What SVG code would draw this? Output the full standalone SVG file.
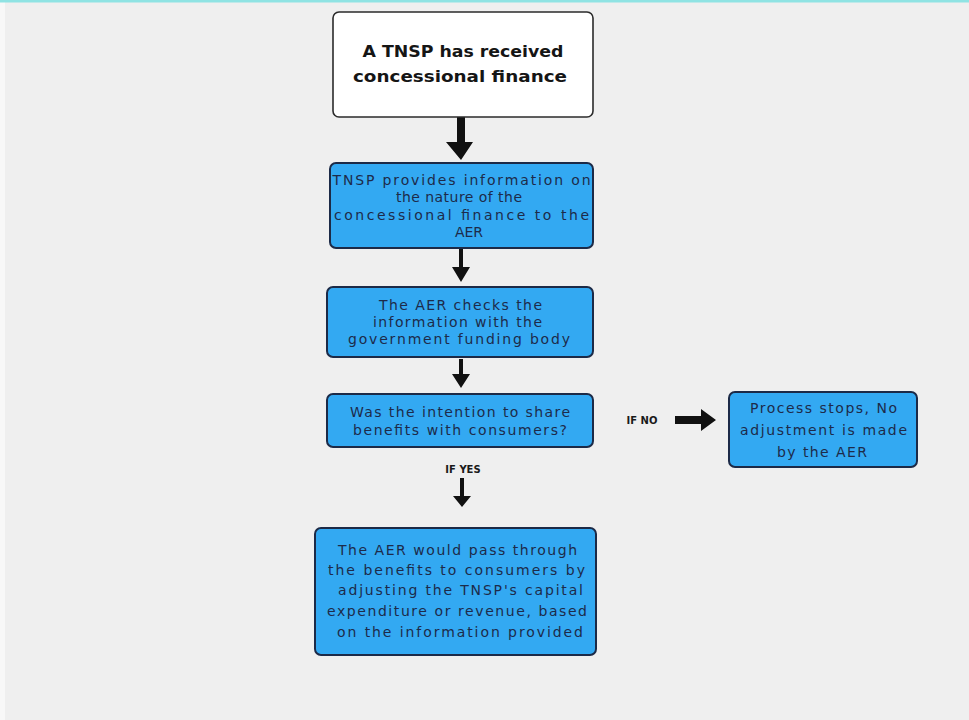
<svg xmlns="http://www.w3.org/2000/svg" width="969" height="720" viewBox="0 0 969 720">
<defs>
<style>
.bg{fill:#efefef}
.box{fill:#33a9f2;stroke:#1c2a47;stroke-width:2}
.start{fill:#ffffff;stroke:#2b2b2b;stroke-width:1.6}
.t{font-family:"DejaVu Sans","Noto Sans",sans-serif;font-size:14px;fill:#1d2b4a;text-anchor:middle}
.title{font-family:"DejaVu Sans","Noto Sans",sans-serif;font-size:16px;font-weight:bold;fill:#151515;text-anchor:middle}
.lbl{font-family:"DejaVu Sans","Noto Sans",sans-serif;font-size:10px;font-weight:bold;fill:#1a1a1a;text-anchor:middle}
.arr{fill:#111111}
</style>
</defs>
<rect class="bg" x="0" y="0" width="969" height="720"/>
<rect x="0" y="0" width="5" height="720" fill="#f8f8f8"/>
<rect x="0" y="0" width="969" height="2.5" fill="#8fe3e3"/>

<g id="connectors">
<path class="arr" d="M457,117 H465 V142 H473 L461,160 L446,142 H457 Z"/>
<path class="arr" d="M459,249 H463 V267 H470 L461,282 L452,267 H459 Z"/>
<path class="arr" d="M459,359 H463 V374 H470 L461,388 L452,374 H459 Z"/>
<path class="arr" d="M460,478 H464 V496 H471 L462,507 L453,496 H460 Z"/>
<path class="arr" d="M675,416 H701 V409 L716,420 L701,431 V424 H675 Z"/>
<text class="lbl" x="642" y="424">IF NO</text>
<text class="lbl" x="463" y="473">IF YES</text>
</g>

<g id="n1">
<rect class="start" x="333" y="12" width="260" height="105" rx="6"/>
<text class="title" x="463" y="57" textLength="201" lengthAdjust="spacingAndGlyphs">A TNSP has received</text>
<text class="title" x="460" y="82" textLength="214" lengthAdjust="spacingAndGlyphs">concessional finance</text>
</g>

<g id="n2">
<rect class="box" x="330" y="163" width="263" height="85" rx="6"/>
<text class="t" x="461.5" y="185" textLength="258" lengthAdjust="spacing">TNSP provides information on</text>
<text class="t" x="459" y="202" textLength="126" lengthAdjust="spacing">the nature of the</text>
<text class="t" x="461.5" y="220" textLength="255" lengthAdjust="spacing">concessional finance to the</text>
<text class="t" x="469" y="237">AER</text>
</g>

<g id="n3">
<rect class="box" x="327" y="287" width="266" height="70" rx="6"/>
<text class="t" x="460.5" y="310" textLength="163" lengthAdjust="spacing">The AER checks the</text>
<text class="t" x="457.5" y="327" textLength="169" lengthAdjust="spacing">information with the</text>
<text class="t" x="459" y="344" textLength="222" lengthAdjust="spacing">government funding body</text>
</g>

<g id="n4">
<rect class="box" x="327" y="394" width="266" height="53" rx="6"/>
<text class="t" x="460" y="417" textLength="220" lengthAdjust="spacing">Was the intention to share</text>
<text class="t" x="460" y="435" textLength="214" lengthAdjust="spacing">benefits with consumers?</text>
</g>

<g id="n5">
<rect class="box" x="729" y="392" width="188" height="75" rx="6"/>
<text class="t" x="823.5" y="413" textLength="147" lengthAdjust="spacing">Process stops, No</text>
<text class="t" x="823.5" y="435" textLength="167" lengthAdjust="spacing">adjustment is made</text>
<text class="t" x="822" y="457" textLength="90" lengthAdjust="spacing">by the AER</text>
</g>

<g id="n6">
<rect class="box" x="315" y="528" width="281" height="127" rx="6"/>
<text class="t" x="457.5" y="555" textLength="239" lengthAdjust="spacing">The AER would pass through</text>
<text class="t" x="456.5" y="575" textLength="257" lengthAdjust="spacing">the benefits to consumers by</text>
<text class="t" x="460.5" y="595" textLength="245" lengthAdjust="spacing">adjusting the TNSP's capital</text>
<text class="t" x="457" y="616" textLength="260" lengthAdjust="spacing">expenditure or revenue, based</text>
<text class="t" x="460" y="637" textLength="246" lengthAdjust="spacing">on the information provided</text>
</g>
</svg>
